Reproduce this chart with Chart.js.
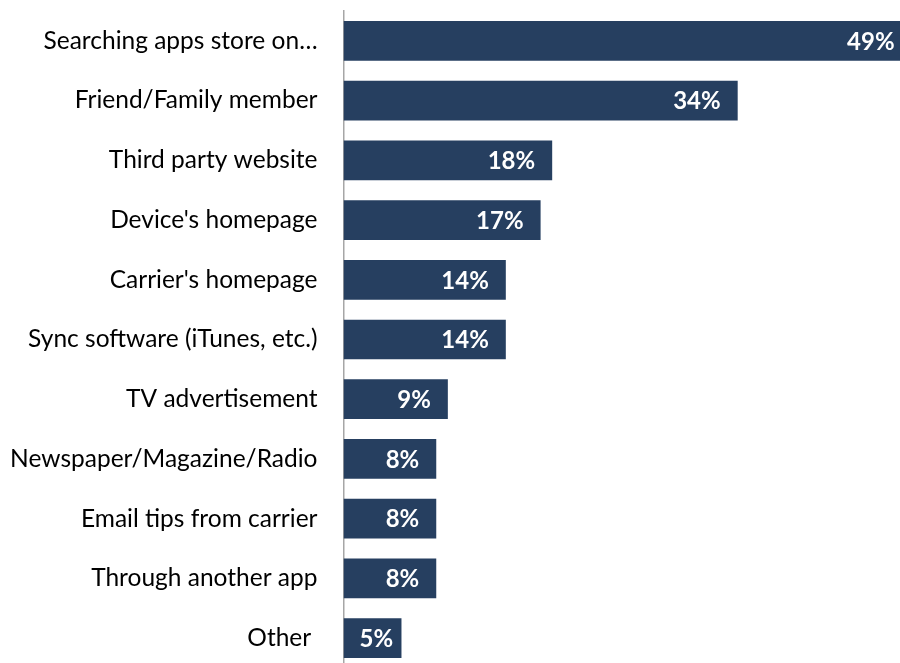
<!DOCTYPE html>
<html>
<head>
<meta charset="utf-8">
<script src="https://cdn.jsdelivr.net/npm/chart.js@4/dist/chart.umd.min.js"></script>
<style>
  html, body { margin: 0; padding: 0; background: #fff; overflow: hidden; }
  #wrap { position: relative; width: 900px; height: 668px; }
</style>
</head>
<body>
<div id="wrap"><canvas id="c" width="900" height="668"></canvas></div>
<script>
// How people discover apps (share of respondents, %)
const categories = [
  "Searching apps store on…",
  "Friend/Family member",
  "Third party website",
  "Device's homepage",
  "Carrier's homepage",
  "Sync software (iTunes, etc.)",
  "TV advertisement",
  "Newspaper/Magazine/Radio",
  "Email tips from carrier",
  "Through another app",
  "Other "
];
const shares = [49, 34, 18, 17, 14, 14, 9, 8, 8, 8, 5];

const FONT = "Lato, 'Open Sans', sans-serif";

// White percentage labels inside the end of each bar
const valueLabels = {
  id: 'valueLabels',
  afterDatasetsDraw(chart) {
    const ctx = chart.ctx;
    const meta = chart.getDatasetMeta(0);
    ctx.save();
    ctx.fillStyle = '#ffffff';
    ctx.font = `bold 24px ${FONT}`;
    ctx.textAlign = 'right';
    ctx.textBaseline = 'middle';
    meta.data.forEach((bar, i) => {
      const text = shares[i] + '%';
      const w = ctx.measureText(text).width;
      // keep short labels clear of the axis line
      const x = Math.max(bar.x - 17, bar.base + 16 + w);
      ctx.fillText(text, x, bar.y + 1);
    });
    ctx.restore();
  }
};

new Chart(document.getElementById('c'), {
  type: 'bar',
  data: {
    labels: categories,
    datasets: [{
      data: shares,
      backgroundColor: '#263F60',
      borderWidth: 0,
      categoryPercentage: 0.665,
      barPercentage: 1.0
    }]
  },
  options: {
    indexAxis: 'y',
    responsive: false,
    animation: false,
    layout: { padding: { top: 11, right: 0, bottom: 0, left: 0 } },
    plugins: { legend: { display: false }, tooltip: { enabled: false } },
    scales: {
      x: {
        display: false,
        min: 0,
        max: 48
      },
      y: {
        afterFit(scale) {
          scale.width = 343.5;
          scale.paddingTop = 0;
          scale.paddingBottom = 0;
        },
        grid: { display: false, drawTicks: false },
        border: { display: true, color: '#a6a6a6', width: 1.5 },
        ticks: {
          color: '#000000',
          padding: 26,
          font: { family: FONT, size: 24.5 }
        }
      }
    }
  },
  plugins: [valueLabels]
});
</script>
</body>
</html>
